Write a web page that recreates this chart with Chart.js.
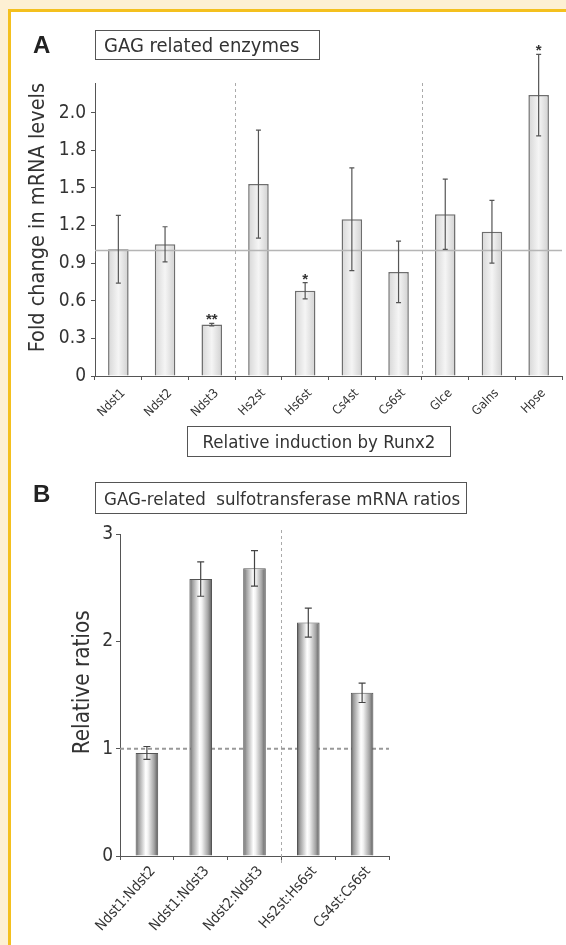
<!DOCTYPE html>
<html>
<head>
<meta charset="utf-8">
<script src="https://cdn.jsdelivr.net/npm/chart.js@4.4.1/dist/chart.umd.min.js"></script>
<style>
  html, body { margin: 0; padding: 0; }
  body { width: 566px; height: 945px; position: relative; overflow: hidden; background: #fdf0d3;
         font-family: "DejaVu Sans Condensed", "Liberation Sans", sans-serif; color: #333; }
  #frame { position: absolute; left: 8px; top: 9px; right: 0; bottom: 0; background: #fff;
           border-top: 3px solid #f4c01e; border-left: 3px solid #f4c01e; }
  canvas { position: absolute; left: 0; }
  .letter { position: absolute; font-family: "Liberation Sans", Arial, sans-serif; font-weight: bold;
            font-size: 24px; line-height: 24px; color: #222; }
  .box { position: absolute; box-sizing: border-box; border: 1.5px solid #555; white-space: pre;
         display: flex; align-items: center; color: #333; }
</style>
</head>
<body>
<div id="frame"></div>
<canvas id="chartA" width="566" height="470" style="top:0"></canvas>
<canvas id="chartB" width="566" height="475" style="top:470px"></canvas>

<div class="letter" style="left:33px; top:33px;">A</div>
<div class="box" style="left:95px; top:30px; width:225px; height:30px; font-size:20px; padding-left:8px;">GAG related enzymes</div>
<div class="box" style="left:187px; top:426px; width:264px; height:31px; font-size:18.5px; justify-content:center;">Relative induction by Runx2</div>
<div class="letter" style="left:33px; top:482px;">B</div>
<div class="box" style="left:95px; top:482px; width:372px; height:32px; font-size:18.5px; padding-left:8px;">GAG-related  sulfotransferase mRNA ratios</div>

<script>
// panel A: fold change of GAG related enzymes
const genesA = ['Ndst1', 'Ndst2', 'Ndst3', 'Hs2st', 'Hs6st', 'Cs4st', 'Cs6st', 'Glce', 'Galns', 'Hpse'];
const foldA = [1.01, 1.05, 0.41, 1.53, 0.68, 1.25, 0.83, 1.29, 1.15, 2.24];
const errA = [0.27, 0.14, 0.01, 0.43, 0.065, 0.41, 0.245, 0.28, 0.25, 0.325];
const starsA = ['', '', '**', '', '*', '', '', '', '', '*'];
const yTicksA = [0, 0.3, 0.6, 0.9, 1.2, 1.5, 1.8, 2.1];
const yLabelsA = ['0', '0.3', '0.6', '0.9', '1.2', '1.5', '1.8', '2.0'];
const splitsA = [2, 6]; // dashed line after these categories

// panel B: sulfotransferase ratios
const pairsB = ['Ndst1:Ndst2', 'Ndst1:Ndst3', 'Ndst2:Ndst3', 'Hs2st:Hs6st', 'Cs4st:Cs6st'];
const ratioB = [0.96, 2.58, 2.68, 2.175, 1.52];
const errB = [0.06, 0.16, 0.165, 0.135, 0.09];
const yTicksB = [0, 1, 2, 3];
const splitsB = [2];

const NARROW = '"DejaVu Sans Condensed", "Liberation Sans", sans-serif';
const INK = '#333';
const AXIS = '#555';

function barFill(stops, pct) {
  return function (c) {
    const chart = c.chart;
    const xs = chart.scales.x;
    if (!chart.chartArea || !xs || c.type !== 'data') return '#ddd';
    const cx = xs.getPixelForValue(c.dataIndex);
    const half = xs.width / chart.data.labels.length * pct / 2;
    const g = chart.ctx.createLinearGradient(cx - half, 0, cx + half, 0);
    stops.forEach(s => g.addColorStop(s[0], s[1]));
    return g;
  };
}

function errorPlugin(errors, stars, cap, color) {
  return {
    id: 'errorBars',
    afterDatasetsDraw(chart) {
      const ctx = chart.ctx;
      const y = chart.scales.y;
      const vals = chart.data.datasets[0].data;
      const meta = chart.getDatasetMeta(0);
      ctx.save();
      ctx.strokeStyle = color;
      ctx.lineWidth = 1.2;
      meta.data.forEach((bar, i) => {
        const top = y.getPixelForValue(vals[i] + errors[i]);
        const bot = y.getPixelForValue(vals[i] - errors[i]);
        ctx.beginPath();
        ctx.moveTo(bar.x, top); ctx.lineTo(bar.x, bot);
        ctx.moveTo(bar.x - cap, top); ctx.lineTo(bar.x + cap, top);
        ctx.moveTo(bar.x - cap, bot); ctx.lineTo(bar.x + cap, bot);
        ctx.stroke();
        if (stars && stars[i]) {
          ctx.fillStyle = INK;
          ctx.font = 'bold 15px "Liberation Sans", sans-serif';
          ctx.textAlign = 'center';
          ctx.textBaseline = 'alphabetic';
          ctx.fillText(stars[i], bar.x, top + 1);
        }
      });
      ctx.restore();
    }
  };
}

function splitX(xs, i) {
  return (xs.getPixelForValue(i) + xs.getPixelForValue(i + 1)) / 2;
}

// reference lines for A sit on top of the bars
const guidesA = {
  id: 'guidesA',
  afterDatasetsDraw(chart) {
    const {ctx, chartArea, scales: {x, y}} = chart;
    ctx.save();
    ctx.strokeStyle = '#aaa';
    ctx.lineWidth = 1;
    ctx.setLineDash([3, 3]);
    splitsA.forEach(i => {
      const px = Math.round(splitX(x, i)) + 0.5;
      ctx.beginPath(); ctx.moveTo(px, chartArea.top); ctx.lineTo(px, chartArea.bottom); ctx.stroke();
    });
    ctx.setLineDash([]);
    ctx.strokeStyle = '#b5b5b5';
    ctx.lineWidth = 1.5;
    const py = y.getPixelForValue(1);
    ctx.beginPath(); ctx.moveTo(chartArea.left, py); ctx.lineTo(chartArea.right, py); ctx.stroke();
    ctx.restore();
  }
};

// for B they sit behind
const guidesB = {
  id: 'guidesB',
  beforeDatasetsDraw(chart) {
    const {ctx, chartArea, scales: {x, y}} = chart;
    ctx.save();
    ctx.strokeStyle = '#aaa';
    ctx.lineWidth = 1;
    ctx.setLineDash([3, 3]);
    splitsB.forEach(i => {
      const px = Math.round(splitX(x, i)) + 0.5;
      ctx.beginPath(); ctx.moveTo(px, chartArea.top - 4); ctx.lineTo(px, chartArea.bottom + 10); ctx.stroke();
    });
    ctx.strokeStyle = '#999';
    ctx.lineWidth = 2;
    ctx.setLineDash([4, 3]);
    const py = y.getPixelForValue(1);
    ctx.beginPath(); ctx.moveTo(chartArea.left, py); ctx.lineTo(chartArea.right, py); ctx.stroke();
    ctx.restore();
  }
};

function axisCommon() {
  return {
    border: { display: true, color: AXIS, width: 1 },
    grid: { display: true, drawOnChartArea: false, drawTicks: true, tickLength: 4, color: AXIS }
  };
}

const pctA = 0.44;
new Chart(document.getElementById('chartA'), {
  type: 'bar',
  data: {
    labels: genesA,
    datasets: [{
      data: foldA,
      backgroundColor: barFill([[0, '#d6d6d6'], [0.5, '#f5f5f5'], [1, '#d0d0d0']], pctA),
      borderColor: '#6e6e6e',
      borderWidth: 1.5,
      barPercentage: pctA,
      categoryPercentage: 1
    }]
  },
  options: {
    responsive: false,
    animation: false,
    layout: { padding: { left: 0, right: 4, top: 83, bottom: 0 } },
    plugins: { legend: { display: false }, tooltip: { enabled: false } },
    scales: {
      x: Object.assign(axisCommon(), {
        afterFit: s => { s.height = 94; },
        ticks: { color: INK, font: { family: NARROW, size: 12.5 }, minRotation: 45, maxRotation: 45,
                 autoSkip: false, padding: 6, labelOffset: 5 }
      }),
      y: Object.assign(axisCommon(), {
        min: 0,
        max: 2.336,
        afterFit: s => { s.width = 95; },
        afterBuildTicks: s => { s.ticks = yTicksA.map(v => ({ value: v })); },
        ticks: { color: INK, font: { family: NARROW, size: 19 }, padding: 5,
                 callback: (v, i) => yLabelsA[i] },
        title: { display: true, text: 'Fold change in mRNA levels', color: INK, align: 'end',
                 font: { family: NARROW, size: 21.5 }, padding: { top: 26, bottom: 0 } }
      })
    }
  },
  plugins: [guidesA, errorPlugin(errA, starsA, 2.5, '#555')]
});

const pctB = 0.42;
new Chart(document.getElementById('chartB'), {
  type: 'bar',
  data: {
    labels: pairsB,
    datasets: [{
      data: ratioB,
      backgroundColor: barFill([[0, '#5a5a5a'], [0.12, '#9a9a9a'], [0.45, '#ffffff'], [0.55, '#f2f2f2'],
                                [0.82, '#a5a5a5'], [1, '#5a5a5a']], pctB),
      borderColor: '#555',
      borderWidth: 1,
      barPercentage: pctB,
      categoryPercentage: 1
    }]
  },
  options: {
    responsive: false,
    animation: false,
    layout: { padding: { left: 0, right: 177, top: 64, bottom: 0 } },
    plugins: { legend: { display: false }, tooltip: { enabled: false } },
    scales: {
      x: Object.assign(axisCommon(), {
        afterFit: s => { s.height = 89; },
        ticks: { color: INK, font: { family: NARROW, size: 14.5 }, minRotation: 48, maxRotation: 48,
                 autoSkip: false, padding: 3, labelOffset: 6 }
      }),
      y: Object.assign(axisCommon(), {
        min: 0,
        max: 3,
        afterFit: s => { s.width = 120; },
        afterBuildTicks: s => { s.ticks = yTicksB.map(v => ({ value: v })); },
        ticks: { color: INK, font: { family: NARROW, size: 19 }, padding: 3 },
        title: { display: true, text: '    Relative ratios', color: INK,
                 font: { family: NARROW, size: 22.3 }, padding: { top: 70, bottom: 0 } }
      })
    }
  },
  plugins: [guidesB, errorPlugin(errB, null, 3.5, '#444')]
});
</script>
</body>
</html>
